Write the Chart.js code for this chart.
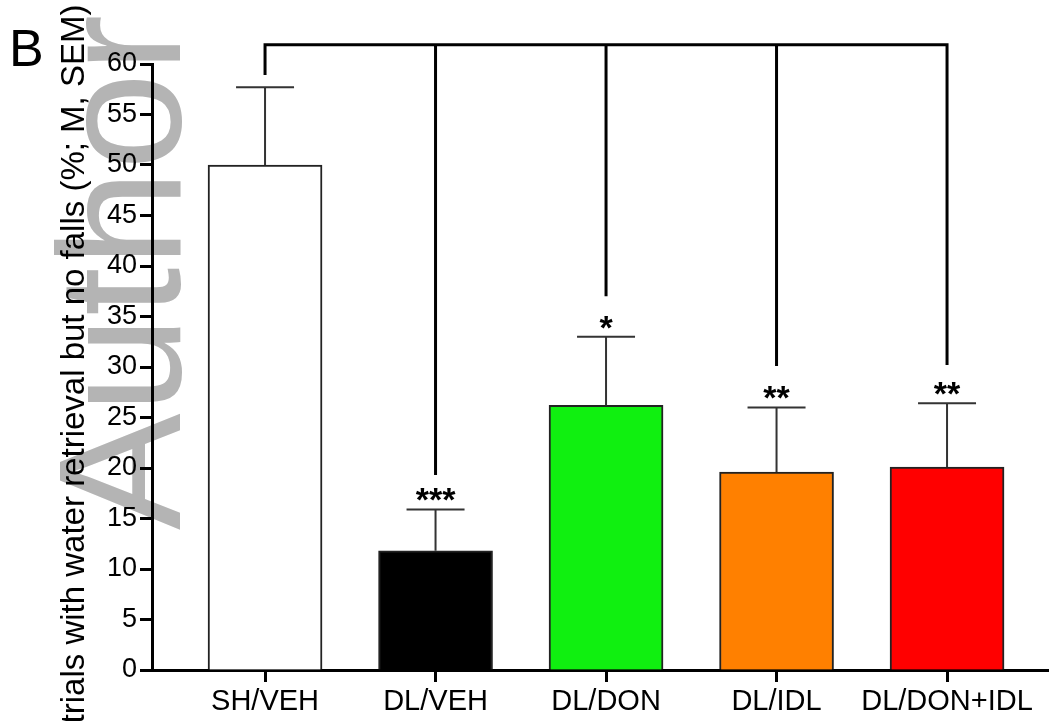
<!DOCTYPE html>
<html lang="en">
<head>
  <meta charset="UTF-8" />
  <title>Trials with water retrieval</title>
  <script src="https://cdn.jsdelivr.net/npm/chart.js@4.4.1/dist/chart.umd.min.js"></script>
  <style>
    html, body { margin: 0; padding: 0; background: #fff; }
    #wrap { width: 1049px; height: 721px; position: relative; }
  </style>
</head>
<body>
  <div id="wrap"><canvas id="chart"></canvas></div>

  <script>
    // data
    const groups = ['SH/VEH', 'DL/VEH', 'DL/DON', 'DL/IDL', 'DL/DON+IDL'];
    const means = [50.0, 11.8, 26.2, 19.6, 20.1];
    const sems = [7.7, 4.1, 6.8, 6.4, 6.3];
    const stars = ['', '***', '*', '**', '**'];
    const bracketTop = 61.9;
    const bracketEnds = [58.9, 19.3, 37.0, 30.1, 30.2];
    const yTicks = [0, 5, 10, 15, 20, 25, 30, 35, 40, 45, 50, 55, 60];
    const barColors = ['#ffffff', '#000000', '#10f010', '#ff8000', '#ff0000'];

    const FONT = "'Liberation Sans', Arial, sans-serif";
    Chart.defaults.font.family = FONT;
    Chart.defaults.color = '#000';

    const decor = {
      id: 'decor',
      beforeDraw(chart) {
        const ctx = chart.ctx;
        // grey watermark behind everything
        ctx.save();
        ctx.fillStyle = '#b4b4b4';
        ctx.font = '175px ' + FONT;
        ctx.translate(180, 530);
        ctx.rotate(-Math.PI / 2);
        ctx.fillText('Author', 0, 0);
        ctx.restore();
      },
      afterDatasetsDraw(chart) {
        const { ctx, scales: { x, y } } = chart;
        ctx.save();

        // upper SEM bars
        ctx.strokeStyle = '#333';
        ctx.lineWidth = 2;
        means.forEach((m, i) => {
          const cx = x.getPixelForValue(i);
          const top = y.getPixelForValue(m + sems[i]);
          ctx.beginPath();
          ctx.moveTo(cx, y.getPixelForValue(m));
          ctx.lineTo(cx, top);
          ctx.moveTo(cx - 29, top);
          ctx.lineTo(cx + 29, top);
          ctx.stroke();
        });

        // comparison bracket
        ctx.strokeStyle = '#000';
        ctx.lineWidth = 3;
        const by = y.getPixelForValue(bracketTop);
        const last = groups.length - 1;
        ctx.beginPath();
        ctx.moveTo(x.getPixelForValue(0), y.getPixelForValue(bracketEnds[0]));
        ctx.lineTo(x.getPixelForValue(0), by);
        ctx.lineTo(x.getPixelForValue(last), by);
        ctx.lineTo(x.getPixelForValue(last), y.getPixelForValue(bracketEnds[last]));
        for (let i = 1; i < last; i++) {
          ctx.moveTo(x.getPixelForValue(i), by);
          ctx.lineTo(x.getPixelForValue(i), y.getPixelForValue(bracketEnds[i]));
        }
        ctx.stroke();

        // significance stars
        ctx.fillStyle = '#000';
        ctx.font = 'bold 34px ' + FONT;
        ctx.textAlign = 'center';
        stars.forEach((s, i) => {
          if (!s) return;
          const top = y.getPixelForValue(means[i] + sems[i]);
          ctx.fillText(s, x.getPixelForValue(i), top + 2);
        });
        ctx.restore();
      },
      afterDraw(chart) {
        const ctx = chart.ctx;
        ctx.save();
        ctx.fillStyle = '#000';
        // y axis title
        ctx.font = '33px ' + FONT;
        ctx.textAlign = 'center';
        ctx.textBaseline = 'middle';
        ctx.translate(75, 364);
        ctx.rotate(-Math.PI / 2);
        ctx.fillText('trials with water retrieval but no falls (%; M, SEM)', 0, 0);
        ctx.restore();

        // panel letter
        ctx.save();
        ctx.font = '52px ' + FONT;
        ctx.fillText('B', 9, 66);
        ctx.restore();
      }
    };

    new Chart(document.getElementById('chart'), {
      type: 'bar',
      data: {
        datasets: [{
          data: means.map((v, i) => ({ x: i, y: v })),
          backgroundColor: barColors,
          borderColor: '#222',
          borderWidth: 2,
          barThickness: 114
        }]
      },
      options: {
        responsive: true,
        maintainAspectRatio: false,
        animation: false,
        layout: { padding: { top: 64, right: 0, bottom: 0, left: 0 } },
        plugins: { legend: { display: false }, tooltip: { enabled: false } },
        scales: {
          x: {
            type: 'linear',
            offset: false,
            min: -0.663,
            max: 4.598,
            afterFit: s => { s.height = 51; },
            afterBuildTicks: s => { s.ticks = groups.map((g, i) => ({ value: i })); },
            grid: { offset: false, drawOnChartArea: false, drawTicks: true, tickLength: 12, tickWidth: 3, tickColor: '#000' },
            border: { display: true, width: 3, color: '#000' },
            ticks: {
              font: { size: 29 },
              padding: 3,
              maxRotation: 0,
              autoSkip: false,
              callback: v => groups[v]
            }
          },
          y: {
            min: 0,
            max: 60,
            afterFit: s => { s.width = 152; },
            afterBuildTicks: s => { s.ticks = yTicks.map(v => ({ value: v })); },
            grid: { drawOnChartArea: false, drawTicks: true, tickLength: 12, tickWidth: 3, tickColor: '#000' },
            border: { display: true, width: 3, color: '#000' },
            ticks: { font: { size: 27 }, padding: 3, autoSkip: false }
          }
        }
      },
      plugins: [decor]
    });
  </script>
</body>
</html>
